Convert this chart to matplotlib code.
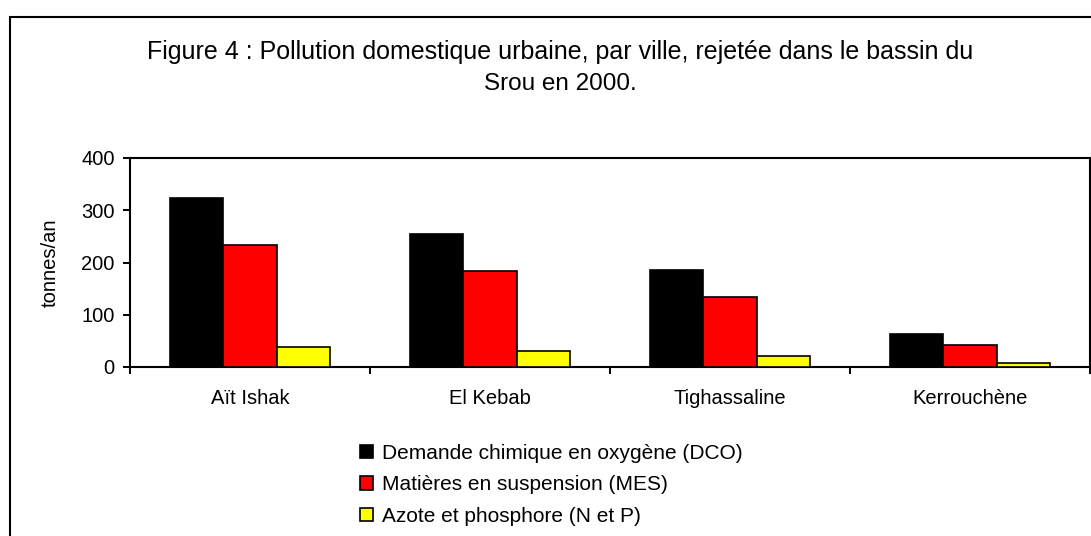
import matplotlib
matplotlib.use("Agg")
import matplotlib.pyplot as plt
from matplotlib.patches import Rectangle, Patch
import numpy as np

plt.rcParams['font.family'] = ['Liberation Sans', 'DejaVu Sans']

categories = ["Aït Ishak", "El Kebab", "Tighassaline", "Kerrouchène"]
series_names = ["Demande chimique en oxygène (DCO)",
                "Matières en suspension (MES)",
                "Azote et phosphore (N et P)"]
dco = [323, 254, 185, 63]
mes = [234, 184, 134, 43]
nep = [38, 31, 22, 8]
colors = ["#000000", "#FF0000", "#FFFF00"]
title_line1 = "Figure 4 : Pollution domestique urbaine, par ville, rejetée dans le bassin du"
title_line2 = "Srou en 2000."
ylabel = "tonnes/an"

W, H = 1091, 536
fig = plt.figure(figsize=(W / 100, H / 100), dpi=100)

# outer chart frame
fig.patches.append(Rectangle((10 / W, -0.2), 1.5, (1 - 17 / H) + 0.2,
                             transform=fig.transFigure, fill=False,
                             edgecolor='black', linewidth=1.5, zorder=0))

ax = fig.add_axes([130 / W, 1 - 367 / H, 960 / W, (367 - 158) / H])

x = np.arange(len(categories))
w = 1 / 4.5
for k, (vals, c, name) in enumerate(zip([dco, mes, nep], colors, series_names)):
    ax.bar(x + (k - 1) * w, vals, width=w, color=c, edgecolor='black',
           linewidth=1.2, label=name, zorder=3)

ax.set_xlim(-0.5, len(categories) - 0.5)
ax.set_ylim(0, 400)
ax.set_yticks([0, 100, 200, 300, 400])
ax.set_xticks(np.arange(len(categories) + 1) - 0.5)
ax.set_xticklabels([])
ax.set_xticks(x, minor=True)
ax.set_xticklabels(categories, minor=True)
ax.tick_params(axis='x', which='minor', length=0, pad=16, labelsize=14.5)
ax.tick_params(axis='x', which='major', length=5, width=1.4, direction='out')
ax.tick_params(axis='y', length=5, width=1.4, direction='out', pad=6, labelsize=14.5)
for s in ax.spines.values():
    s.set_linewidth(1.5)

ax.set_ylabel(ylabel, fontsize=14.5)
ax.yaxis.set_label_coords(-70 / 960, 0.5)

fig.text(560 / W, 1 - 52 / H, title_line1, ha='center', va='center', fontsize=18)
fig.text(560 / W, 1 - 84 / H, title_line2, ha='center', va='center', fontsize=17.5)

handles = [Patch(facecolor=c, edgecolor='black', linewidth=1.2) for c in colors]
fig.legend(handles, series_names, loc='upper left',
           bbox_to_anchor=(360 / W, 1 - 444 / H), frameon=False,
           fontsize=15, handlelength=0.62, handleheight=0.62,
           handletextpad=0.43, labelspacing=0.6, borderpad=0, borderaxespad=0)

fig.savefig("out.png", dpi=100)
